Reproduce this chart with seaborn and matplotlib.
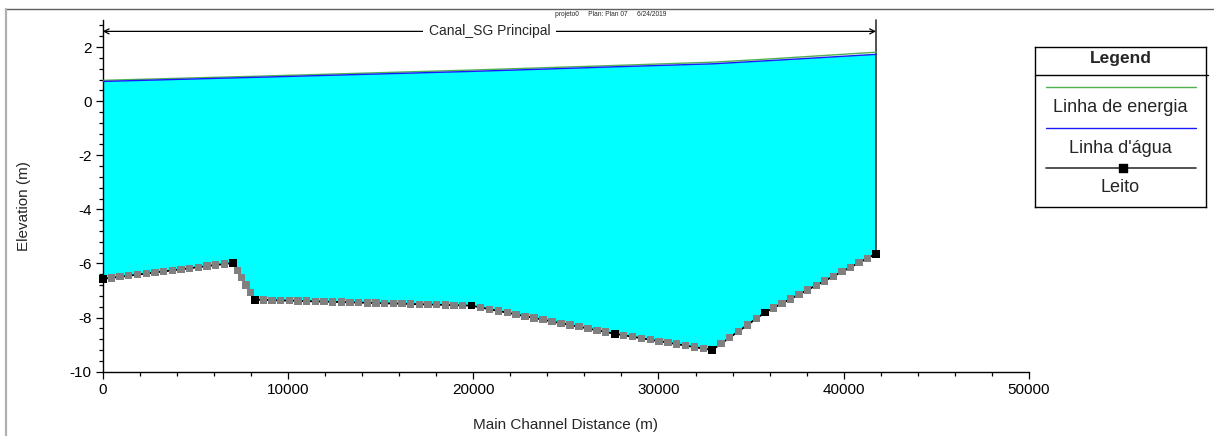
import numpy as np
import pandas as pd
import matplotlib
matplotlib.use("Agg")
import matplotlib.pyplot as plt
from matplotlib.lines import Line2D
from matplotlib.ticker import MultipleLocator
import seaborn as sns

# Surveyed cross sections along the main channel
stations = [0, 7040, 8210, 19900, 27640, 32900, 35750, 41745]
bed_elev = [-6.57, -5.98, -7.34, -7.56, -8.60, -9.20, -7.81, -5.64]
water_surface = [0.73, 0.86, 0.88, 1.10, 1.27, 1.38, 1.49, 1.73]
energy_grade = [0.77, 0.90, 0.92, 1.15, 1.32, 1.44, 1.55, 1.81]
# Number of interpolated cross sections between consecutive surveyed ones
interp_sections = [14, 4, 24, 15, 10, 5, 12]

reach_name = "Canal_SG Principal"
header = "projeto0     Plan: Plan 07     6/24/2019"
legend_labels = ["Linha de energia", "Linha d'água", "Leito"]

sns.set_style("ticks")
plt.rcParams["font.family"] = ["Liberation Sans", "DejaVu Sans"]
plt.rcParams["axes.unicode_minus"] = False

fig = plt.figure(figsize=(12.14, 4.36), dpi=100)
ax = fig.add_axes([0.0846, 0.1475, 0.7630, 0.8066])

# Interpolated section stations on each reach
interp_x = []
for i, n in enumerate(interp_sections):
    seg = np.linspace(stations[i], stations[i + 1], n + 2)[1:-1]
    interp_x.extend(seg)
interp_x = np.array(interp_x)
interp_z = np.interp(interp_x, stations, bed_elev)

# Water body between bed and water surface
poly_x = list(stations) + list(stations[::-1])
poly_y = list(water_surface) + list(bed_elev[::-1])
ax.fill(poly_x, poly_y, color="#00FFFF", lw=0, zorder=1)

# Downstream boundary line
ax.plot([stations[-1], stations[-1]], [bed_elev[-1], 3.0], color="#333333",
        lw=1.2, zorder=2, clip_on=False)

df = pd.DataFrame({"x": stations, "bed": bed_elev, "ws": water_surface,
                   "eg": energy_grade})
sns.lineplot(data=df, x="x", y="eg", color="#4fb04f", lw=1.0, ax=ax,
             estimator=None, sort=False, zorder=3)
sns.lineplot(data=df, x="x", y="ws", color="#1a1aff", lw=1.0, ax=ax,
             estimator=None, sort=False, zorder=4)
sns.lineplot(data=df, x="x", y="bed", color="black", lw=1.3, ax=ax,
             estimator=None, sort=False, zorder=5)
ax.scatter(interp_x, interp_z, marker="s", s=28, color="#808080",
           edgecolor="none", zorder=6)
ax.scatter(stations, bed_elev, marker="s", s=30, color="black",
           edgecolor="none", zorder=7, clip_on=False)

# Reach extent arrow with name
arrow_y = 2.58
ax.annotate("", xy=(0, arrow_y), xytext=(stations[-1], arrow_y),
            arrowprops=dict(arrowstyle="<->", color="black", lw=0.9,
                            shrinkA=0, shrinkB=0, mutation_scale=9),
            annotation_clip=False, zorder=8)
ax.text(stations[-1] / 2, arrow_y, reach_name, ha="center", va="center",
        fontsize=10, zorder=9,
        bbox=dict(facecolor="white", edgecolor="none", pad=4))

ax.set_xlim(0, 50000)
ax.set_ylim(-10, 3.0)
ax.set_xticks([0, 10000, 20000, 30000, 40000, 50000])
ax.set_yticks([2, 0, -2, -4, -6, -8, -10])
ax.xaxis.set_minor_locator(MultipleLocator(2000))
ax.yaxis.set_minor_locator(MultipleLocator(0.4))
ax.tick_params(axis="both", which="major", direction="out", length=5,
               width=0.9, labelsize=11, colors="black", pad=3)
ax.tick_params(axis="both", which="minor", direction="out", length=3,
               width=0.9, colors="black")
for s in ("top", "right"):
    ax.spines[s].set_visible(False)
for s in ("left", "bottom"):
    ax.spines[s].set_color("black")
    ax.spines[s].set_linewidth(1.0)

ax.set_xlabel("Main Channel Distance (m)", fontsize=11, va="center")
ax.set_ylabel("Elevation (m)", fontsize=11, va="center")
ax.xaxis.set_label_coords(0.5, -0.1515)
ax.yaxis.set_label_coords(-0.085, 0.471)

fig.text(611 / 1214, 1 - 15 / 436, header, fontsize=4.8, ha="center",
         va="center")

# Page frame
fig.add_artist(Line2D([5 / 1214, 1.0], [1 - 9 / 436] * 2, color="#606060",
                      lw=1.0))
fig.add_artist(Line2D([6 / 1214] * 2, [0, 1 - 9 / 436], color="#b0b0b0",
                      lw=1.6))

# Legend panel
lg = fig.add_axes([1035 / 1214, 1 - 207 / 436, 171 / 1214, 160 / 436])
lg.set_xlim(0, 171)
lg.set_ylim(160, 0)
lg.set_xticks([])
lg.set_yticks([])
for s in lg.spines.values():
    s.set_color("black")
    s.set_linewidth(1.0)
lg.patch.set_facecolor("white")
lg.plot([0, 173], [28, 28], color="black", lw=1.0, clip_on=False)
lg.text(85.5, 12, "Legend", ha="center", va="center", fontsize=12.5,
        fontweight="bold")
lg.plot([11, 161], [39.7, 39.7], color="#4fb04f", lw=1.0)
lg.text(85.5, 61, legend_labels[0], ha="center", va="center", fontsize=13)
lg.plot([11, 161], [81, 81], color="#1a1aff", lw=1.0)
lg.text(85.5, 101, legend_labels[1], ha="center", va="center", fontsize=13)
lg.plot([11, 161], [121, 121], color="#333333", lw=1.2)
lg.scatter([88], [121], marker="s", s=26, color="black", zorder=3)
lg.text(85.5, 140, legend_labels[2], ha="center", va="center", fontsize=13)

fig.savefig("out.png", dpi=100)
